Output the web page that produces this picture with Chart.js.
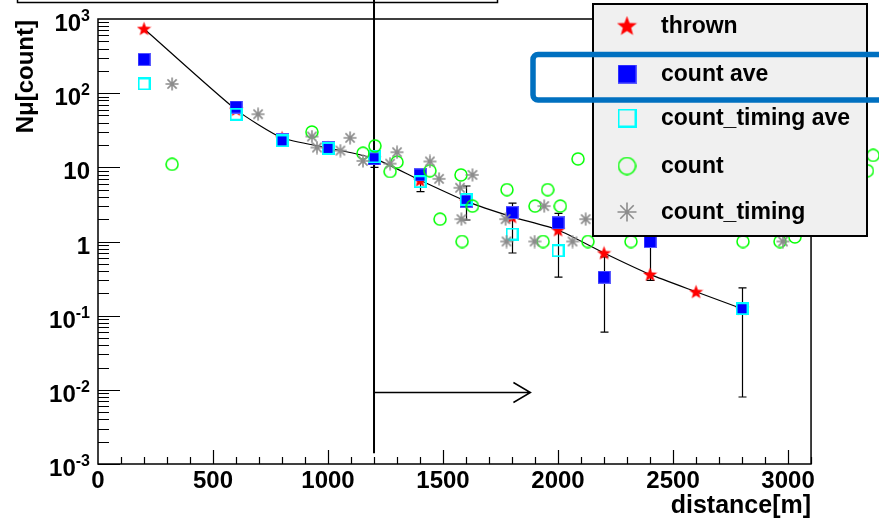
<!DOCTYPE html>
<html lang="en">
  <head>
    <meta charset="UTF-8" />
    <title>N_mu vs distance</title>
    <script src="https://cdn.jsdelivr.net/npm/chart.js"></script>
    <style>
      html,
      body {
        margin: 0;
        padding: 0;
        background: #fff;
      }
      #wrap {
        width: 879px;
        height: 521px;
      }
    </style>
  </head>
  <body>
    <div id="wrap"><canvas id="muChart" width="879" height="521"></canvas></div>

    <script>
      // values
      const distances = [200, 600, 800, 1000, 1200, 1400, 1600, 1800, 2000, 2200, 2400, 2600, 2800];
      const thrown = [740, 60, 25, 18.3, 13.2, 6.7, 3.5, 2.15, 1.43, 0.7, 0.36, 0.21, 0.124];
      const countAve = [285, 65, 23.4, 18.3, 13, 7.9, 3.5, 2.45, 1.78, 0.33, 1.0, null, 0.124];
      const countAveLow = [null, null, null, null, 10, 4.7, 1.95, 0.7, 0.33, 0.06, 0.3, null, 0.008];
      const countAveHigh = [null, null, null, null, 16, 8.5, 5.6, 3.3, 2.4, 0.62, 1.6, null, 0.237];
      const countTimingAve = [133, 52, 22.7, 18, 13.8, 6.4, 3.7, 1.26, 0.75, null, null, null, 0.124];

      const countX = [322, 930, 1152, 1204, 1270, 1300, 1443, 1487, 1578, 1583, 1628, 1778, 1900, 1935, 1955, 2010, 2087, 2130, 2317, 2804, 2965, 3030, 3345, 3370];
      const countY = [11, 30, 15.5, 19.5, 8.8, 11.8, 9, 2.0, 7.9, 1.0, 3.0, 5.0, 3.0, 1.0, 5.0, 3.0, 13, 1.0, 1.0, 1.0, 1.0, 1.15, 9.0, 14.5];

      const timingX = [322, 696, 930, 952, 1054, 1096, 1152, 1270, 1300, 1443, 1483, 1574, 1580, 1628, 1772, 1776, 1898, 1940, 2063, 2120, 2978];
      const timingY = [133, 52, 26, 18.5, 16.8, 25, 12.2, 11.2, 16, 12, 7, 5.3, 2.0, 7.9, 2.0, 1.0, 1.0, 3.0, 1.0, 2.0, 1.0];

      const xTicks = [0, 500, 1000, 1500, 2000, 2500, 3000];
      const yTicks = [1e-3, 1e-2, 1e-1, 1, 10, 100, 1000];
      const yTickBase = ["10", "10", "10", "1", "10", "10", "10"];
      const yTickExp = ["-3", "-2", "-1", "", "", "2", "3"];
      const legendLabels = ["thrown", "count ave", "count_timing ave", "count", "count_timing"];

      // frame ends at 3100, the drawing area runs a little further (markers sit past the frame)
      const xFrameMax = 3100;
      const xCanvasMax = 3352;

      // distance cut and arrow
      const cutX = 1200;
      const cutTop = 1800;
      const cutBottom = 0.0014;
      const arrowY = 0.0092;
      const arrowEnd = 1880;

      const FONT = "'Liberation Sans', Arial, Helvetica, sans-serif";

      // marker images
      function marker(size, draw) {
        const c = document.createElement("canvas");
        c.width = size;
        c.height = size;
        const g = c.getContext("2d");
        draw(g, size / 2);
        return c;
      }
      function star(size) {
        return marker(size, (g, h) => {
          g.beginPath();
          for (let k = 0; k < 10; k++) {
            const r = k % 2 === 0 ? h : h * 0.42;
            const a = -Math.PI / 2 + (k * Math.PI) / 5;
            g.lineTo(h + r * Math.cos(a), h + 0.5 + r * Math.sin(a));
          }
          g.closePath();
          g.fillStyle = "#ff0000";
          g.fill();
        });
      }
      function boxFilled(size) {
        return marker(size, (g, h) => {
          g.fillStyle = "#0000ff";
          g.fillRect(0, 0, size, size);
          g.strokeStyle = "#5a5aff";
          g.lineWidth = 1;
          g.strokeRect(0.5, 0.5, size - 1, size - 1);
        });
      }
      function boxOpen(size) {
        return marker(size, (g, h) => {
          g.strokeStyle = "#00ffff";
          g.lineWidth = 2;
          g.strokeRect(1, 1, size - 2, size - 2);
        });
      }
      function ring(size) {
        return marker(size, (g, h) => {
          g.strokeStyle = "#00ff00";
          g.lineWidth = 1.5;
          g.beginPath();
          g.arc(h, h, h - 1, 0, Math.PI * 2);
          g.stroke();
        });
      }
      function asterisk(size) {
        return marker(size, (g, h) => {
          g.strokeStyle = "#8c8c8c";
          g.lineWidth = 1.6;
          g.beginPath();
          for (let k = 0; k < 4; k++) {
            const a = (k * Math.PI) / 4;
            const r = h - 0.5;
            g.moveTo(h - r * Math.cos(a), h - r * Math.sin(a));
            g.lineTo(h + r * Math.cos(a), h + r * Math.sin(a));
          }
          g.stroke();
        });
      }

      const plotMarks = [star(15), boxFilled(13), boxOpen(13), ring(14), asterisk(14)];
      const legendMarks = [star(21), boxFilled(19), boxOpen(19), ring(19), asterisk(20)];

      const pts = (xs, ys) =>
        xs.map((x, i) => ({ x: x, y: ys[i] })).filter((p) => p.y !== null);

      const rootStyle = {
        id: "rootStyle",
        beforeDatasetsDraw(chart) {
          const { ctx, chartArea: a, scales } = chart;
          const xs = scales.x;
          const ys = scales.y;
          const frameRight = xs.getPixelForValue(xFrameMax);
          ctx.save();
          ctx.strokeStyle = "#000";

          // frame
          ctx.lineWidth = 1.5;
          ctx.strokeRect(a.left, a.top, frameRight - a.left, a.bottom - a.top);

          // y ticks (inside, left)
          ctx.lineWidth = 1.2;
          ctx.beginPath();
          for (let d = -3; d < 3; d++) {
            for (let k = 1; k < 10; k++) {
              const py = Math.round(ys.getPixelForValue(k * Math.pow(10, d))) + 0.5;
              ctx.moveTo(a.left, py);
              ctx.lineTo(a.left + (k === 1 ? 22 : 11), py);
            }
          }
          // x ticks (inside, bottom)
          for (let v = 100; v <= xFrameMax; v += 100) {
            const px = Math.round(xs.getPixelForValue(v)) + 0.5;
            ctx.moveTo(px, a.bottom);
            ctx.lineTo(px, a.bottom - (v % 500 === 0 ? 14 : 7));
          }
          ctx.stroke();

          // cut line and arrow
          const cx = xs.getPixelForValue(cutX);
          ctx.lineWidth = 2;
          ctx.beginPath();
          ctx.moveTo(cx, ys.getPixelForValue(cutTop));
          ctx.lineTo(cx, ys.getPixelForValue(cutBottom));
          ctx.stroke();
          const ay = ys.getPixelForValue(arrowY);
          const ax = xs.getPixelForValue(arrowEnd);
          ctx.lineWidth = 1.5;
          ctx.beginPath();
          ctx.moveTo(cx, ay);
          ctx.lineTo(ax, ay);
          ctx.moveTo(ax - 17, ay - 10);
          ctx.lineTo(ax, ay);
          ctx.lineTo(ax - 17, ay + 10);
          ctx.stroke();

          // error bars of count ave
          ctx.lineWidth = 1.2;
          ctx.beginPath();
          distances.forEach((d, i) => {
            if (countAveLow[i] === null) return;
            const px = Math.round(xs.getPixelForValue(d)) + 0.5;
            const lo = ys.getPixelForValue(countAveLow[i]);
            const hi = ys.getPixelForValue(countAveHigh[i]);
            ctx.moveTo(px, lo);
            ctx.lineTo(px, hi);
            ctx.moveTo(px - 4, lo);
            ctx.lineTo(px + 4, lo);
            ctx.moveTo(px - 4, hi);
            ctx.lineTo(px + 4, hi);
          });
          ctx.stroke();
          ctx.restore();
        },
        afterDraw(chart) {
          const { ctx, chartArea: a, scales } = chart;
          const xs = scales.x;
          const ys = scales.y;
          const frameRight = xs.getPixelForValue(xFrameMax);
          ctx.save();
          ctx.fillStyle = "#000";

          // x tick labels
          ctx.font = "bold 24px " + FONT;
          ctx.textAlign = "center";
          ctx.textBaseline = "alphabetic";
          xTicks.forEach((v) => {
            ctx.fillText(String(v), xs.getPixelForValue(v), 488);
          });

          // y tick labels with superscripts
          yTicks.forEach((v, i) => {
            const py = ys.getPixelForValue(v);
            const right = 90;
            ctx.textAlign = "right";
            let baseRight = right;
            if (yTickExp[i]) {
              ctx.font = "bold 16px " + FONT;
              ctx.fillText(yTickExp[i], right, py + 2);
              baseRight = right - ctx.measureText(yTickExp[i]).width;
            }
            ctx.font = "bold 24px " + FONT;
            ctx.fillText(yTickBase[i], baseRight, py + 12);
          });

          // axis titles
          ctx.font = "bold 25px " + FONT;
          ctx.textAlign = "right";
          ctx.fillText("distance[m]", frameRight, 513);
          ctx.save();
          ctx.translate(33, a.top + 1);
          ctx.rotate(-Math.PI / 2);
          ctx.font = "bold 24px " + FONT;
          ctx.textAlign = "right";
          ctx.fillText("N\u03bc[count]", 0, 0);
          ctx.restore();

          // title box remnant at top
          ctx.strokeStyle = "#000";
          ctx.lineWidth = 1.5;
          ctx.strokeRect(17.5, -10, 480, 12.5);

          // legend
          ctx.fillStyle = "#f0f0f0";
          ctx.fillRect(592, 3, 275, 233);
          ctx.lineWidth = 2;
          ctx.strokeRect(593, 4, 274, 232);
          const rows = [26, 74, 118, 166, 212];
          ctx.font = "bold 23px " + FONT;
          ctx.textAlign = "left";
          ctx.textBaseline = "middle";
          ctx.fillStyle = "#000";
          legendLabels.forEach((t, i) => {
            const m = legendMarks[i];
            ctx.drawImage(m, 627 - m.width / 2, rows[i] - m.height / 2);
            ctx.fillText(t, 661, rows[i] + 1);
          });

          // highlight around "count ave"
          ctx.strokeStyle = "#0070c0";
          ctx.lineWidth = 5.5;
          ctx.beginPath();
          ctx.roundRect(533, 54.5, 400, 45.5, 5);
          ctx.stroke();
          ctx.restore();
        },
      };

      const ctx = document.getElementById("muChart").getContext("2d");

      const muChart = new Chart(ctx, {
        type: "scatter",
        data: {
          datasets: [
            {
              label: "thrown",
              data: pts(distances, thrown),
              showLine: true,
              borderColor: "#000",
              borderWidth: 1.2,
              tension: 0.2,
              pointStyle: plotMarks[0],
              pointRadius: 7,
              order: 5,
            },
            {
              label: "count ave",
              data: pts(distances, countAve),
              pointStyle: plotMarks[1],
              pointRadius: 7,
              order: 4,
            },
            {
              label: "count_timing ave",
              data: pts(distances, countTimingAve),
              pointStyle: plotMarks[2],
              pointRadius: 7,
              order: 3,
            },
            {
              label: "count",
              data: pts(countX, countY),
              pointStyle: plotMarks[3],
              pointRadius: 7,
              clip: false,
              order: 2,
            },
            {
              label: "count_timing",
              data: pts(timingX, timingY),
              pointStyle: plotMarks[4],
              pointRadius: 7,
              order: 1,
            },
          ],
        },
        options: {
          responsive: false,
          animation: false,
          devicePixelRatio: 1,
          layout: { padding: { left: 98, right: 10, top: 19, bottom: 57 } },
          scales: {
            x: { type: "linear", min: 0, max: xCanvasMax, display: false },
            y: { type: "logarithmic", min: 1e-3, max: 1e3, display: false },
          },
          plugins: {
            legend: { display: false },
            tooltip: { enabled: false },
          },
        },
        plugins: [rootStyle],
      });
    </script>
  </body>
</html>
